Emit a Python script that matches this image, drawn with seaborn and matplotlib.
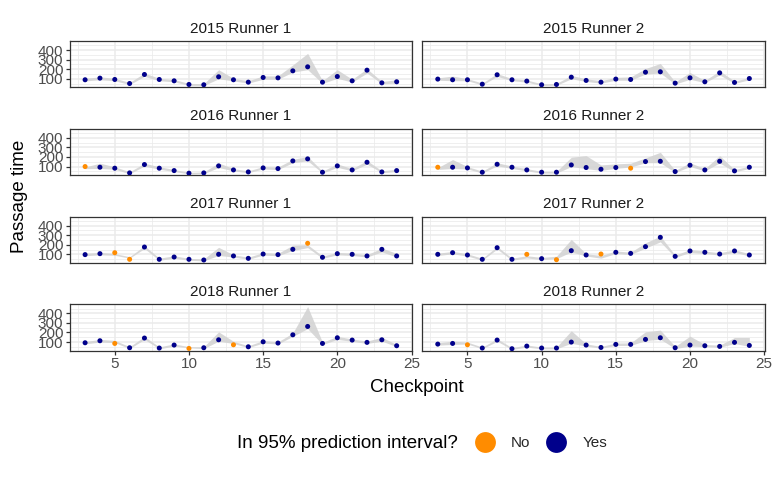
import matplotlib
matplotlib.use("Agg")
import numpy as np
import pandas as pd
import matplotlib.pyplot as plt
from matplotlib.lines import Line2D
import seaborn as sns

# ------------------------------
# Data
# ------------------------------
checkpoints = list(range(3, 25))
panels = ["2015 Runner 1", "2015 Runner 2", "2016 Runner 1", "2016 Runner 2",
          "2017 Runner 1", "2017 Runner 2", "2018 Runner 1", "2018 Runner 2"]

time_2015_r1 = [90, 107, 93, 51, 145, 93, 79, 41, 38, 121, 90, 65, 114, 110, 183, 225, 65, 124, 79, 190, 58, 69]
lo_2015_r1 = [78, 90, 80, 40, 125, 80, 68, 32, 30, 100, 78, 55, 95, 95, 170, 195, 52, 105, 65, 160, 48, 55]
hi_2015_r1 = [105, 120, 105, 62, 160, 105, 92, 52, 50, 195, 105, 80, 130, 130, 245, 365, 80, 195, 95, 205, 72, 90]

time_2015_r2 = [97, 90, 90, 44, 142, 90, 76, 38, 41, 117, 83, 65, 97, 93, 169, 173, 55, 110, 69, 162, 62, 103]
lo_2015_r2 = [85, 80, 80, 35, 125, 80, 65, 30, 32, 100, 72, 55, 85, 85, 150, 160, 45, 95, 60, 140, 52, 90]
hi_2015_r2 = [110, 128, 102, 55, 155, 102, 88, 48, 52, 135, 100, 80, 115, 120, 207, 260, 68, 166, 82, 183, 75, 115]

time_2016_r1 = [100, 93, 83, 34, 121, 83, 58, 31, 34, 107, 65, 44, 86, 79, 159, 180, 41, 107, 65, 145, 44, 58]
lo_2016_r1 = [78, 80, 72, 25, 105, 72, 48, 24, 26, 90, 55, 36, 75, 68, 140, 160, 32, 92, 55, 125, 36, 48]
hi_2016_r1 = [96, 135, 98, 45, 135, 98, 70, 40, 44, 138, 78, 55, 100, 95, 175, 205, 52, 128, 78, 162, 56, 72]

time_2016_r2 = [93, 93, 86, 41, 124, 93, 65, 41, 41, 117, 90, 72, 90, 83, 152, 155, 48, 114, 65, 155, 55, 93]
lo_2016_r2 = [70, 80, 75, 32, 108, 80, 55, 32, 32, 100, 78, 60, 82, 95, 140, 140, 38, 100, 55, 138, 45, 80]
hi_2016_r2 = [88, 173, 100, 52, 140, 105, 78, 50, 50, 197, 214, 117, 128, 135, 190, 249, 60, 140, 78, 214, 68, 105]

time_2017_r1 = [97, 107, 117, 48, 176, 48, 72, 48, 41, 100, 83, 58, 103, 97, 152, 215, 69, 107, 100, 83, 152, 83]
lo_2017_r1 = [85, 95, 90, 60, 160, 38, 60, 38, 32, 88, 72, 48, 92, 85, 140, 170, 58, 95, 88, 72, 125, 72]
hi_2017_r1 = [110, 120, 108, 75, 190, 60, 85, 58, 52, 173, 95, 70, 118, 110, 195, 200, 82, 120, 112, 96, 165, 110]

time_2017_r2 = [100, 117, 93, 48, 169, 48, 100, 55, 44, 138, 93, 103, 121, 110, 180, 277, 79, 135, 121, 103, 135, 93]
lo_2017_r2 = [88, 105, 82, 38, 155, 38, 62, 45, 55, 125, 82, 60, 108, 98, 165, 230, 68, 120, 108, 92, 122, 82]
hi_2017_r2 = [112, 130, 106, 58, 182, 60, 85, 68, 80, 256, 106, 88, 135, 122, 220, 290, 92, 150, 134, 116, 148, 106]

time_2018_r1 = [93, 114, 86, 41, 142, 38, 69, 34, 41, 124, 72, 51, 103, 90, 176, 263, 86, 145, 121, 97, 124, 62]
lo_2018_r1 = [82, 100, 95, 32, 128, 30, 58, 40, 32, 110, 85, 42, 90, 80, 160, 240, 75, 128, 108, 86, 110, 52]
hi_2018_r1 = [105, 128, 118, 52, 158, 50, 82, 52, 52, 207, 108, 62, 116, 102, 195, 470, 98, 160, 132, 110, 150, 75]

time_2018_r2 = [79, 86, 72, 38, 121, 31, 58, 38, 38, 100, 69, 44, 76, 76, 128, 145, 41, 69, 62, 55, 97, 65]
lo_2018_r2 = [68, 75, 80, 30, 108, 24, 48, 30, 30, 88, 58, 36, 65, 65, 115, 130, 32, 58, 52, 45, 85, 55]
hi_2018_r2 = [92, 110, 100, 48, 135, 42, 70, 48, 48, 218, 82, 55, 90, 92, 207, 225, 55, 162, 75, 68, 148, 148]

# checkpoints where the passage time fell outside the interval
outside = {
    "2015 Runner 1": [],
    "2015 Runner 2": [],
    "2016 Runner 1": [3],
    "2016 Runner 2": [3, 16],
    "2017 Runner 1": [5, 6, 18],
    "2017 Runner 2": [9, 11, 14],
    "2018 Runner 1": [5, 10, 13],
    "2018 Runner 2": [5],
}

series = {
    "2015 Runner 1": (time_2015_r1, lo_2015_r1, hi_2015_r1),
    "2015 Runner 2": (time_2015_r2, lo_2015_r2, hi_2015_r2),
    "2016 Runner 1": (time_2016_r1, lo_2016_r1, hi_2016_r1),
    "2016 Runner 2": (time_2016_r2, lo_2016_r2, hi_2016_r2),
    "2017 Runner 1": (time_2017_r1, lo_2017_r1, hi_2017_r1),
    "2017 Runner 2": (time_2017_r2, lo_2017_r2, hi_2017_r2),
    "2018 Runner 1": (time_2018_r1, lo_2018_r1, hi_2018_r1),
    "2018 Runner 2": (time_2018_r2, lo_2018_r2, hi_2018_r2),
}

rows = []
for p in panels:
    t, lo, hi = series[p]
    for c, tv, l, h in zip(checkpoints, t, lo, hi):
        rows.append({"panel": p, "checkpoint": c, "time": tv, "lo": l, "hi": h,
                     "inside": "No" if c in outside[p] else "Yes"})
df = pd.DataFrame(rows)

# ------------------------------
# Style
# ------------------------------
sns.set_theme(style="white")
plt.rcParams["font.family"] = ["Liberation Sans", "DejaVu Sans"]

palette = {"No": "#FF8C00", "Yes": "#00008B"}


def draw_panel(data, **kws):
    ax = plt.gca()
    ax.fill_between(data["checkpoint"], data["lo"], data["hi"],
                    color="#D2D2D2", alpha=0.85, lw=0, zorder=2)
    sns.scatterplot(data=data, x="checkpoint", y="time", hue="inside",
                    palette=palette, s=13, linewidth=0, legend=False,
                    ax=ax, zorder=3)


g = sns.FacetGrid(df, col="panel", col_order=panels, col_wrap=2,
                  sharex=True, sharey=True, height=1, aspect=3,
                  despine=False)
g.map_dataframe(draw_panel)

fig = g.figure
fig.set_size_inches(7.75, 4.79)
fig.subplots_adjust(left=0.0897, right=0.987, top=0.9144, bottom=0.2678,
                    hspace=0.89, wspace=0.029)

for i, (ax, p) in enumerate(zip(g.axes.flat, panels)):
    ax.set_xlim(1.95, 25.05)
    ax.set_ylim(10, 494)
    ax.set_xticks([5, 10, 15, 20, 25])
    ax.set_xticks([2.5, 7.5, 12.5, 17.5, 22.5], minor=True)
    ax.set_yticks([100, 200, 300, 400])
    ax.set_yticks([50, 150, 250, 350, 450], minor=True)
    ax.grid(True, which="major", color="#EBEBEB", lw=1.1, zorder=0)
    ax.grid(True, which="minor", color="#EBEBEB", lw=0.55, zorder=0)
    ax.set_axisbelow(True)
    for s in ax.spines.values():
        s.set_visible(True)
        s.set_color("#333333")
        s.set_linewidth(0.9)
    ax.set_title(p, fontsize=11, color="#1A1A1A", pad=6)
    ax.set_xlabel("")
    ax.set_ylabel("")
    ax.tick_params(which="major", length=3, width=0.9, color="#333333",
                   labelsize=11, labelcolor="#4D4D4D", pad=1.5)
    ax.tick_params(which="minor", length=0)
    col = i % 2
    row = i // 2
    if col == 1:
        ax.tick_params(axis="y", which="both", left=False, labelleft=False)
    else:
        ax.tick_params(axis="y", left=True, labelleft=True)
    if row < 3:
        ax.tick_params(axis="x", which="both", bottom=False, labelbottom=False)
    else:
        ax.tick_params(axis="x", bottom=True, labelbottom=True)

fig.text(0.025, 0.59, "Passage time", rotation=90, ha="center", va="center",
         fontsize=13.5, color="#000000")
fig.text(0.538, 0.19, "Checkpoint", ha="center", va="center",
         fontsize=13.5, color="#000000")

# legend
fig.text(458 / 775, 1 - 443 / 479, "In 95% prediction interval?", ha="right",
         va="center", fontsize=13.5, color="#000000")
handles = [Line2D([], [], ls="", marker="o", markersize=15, color=palette[k],
                  markeredgewidth=0) for k in ["No", "Yes"]]
fig.legend(handles, ["No", "Yes"], ncol=2, loc="center left",
           bbox_to_anchor=(462 / 775, 1 - 443 / 479), frameon=False,
           fontsize=11, handletextpad=1.1, columnspacing=1.1,
           handlelength=1.2)

fig.savefig("out.png", dpi=100)
